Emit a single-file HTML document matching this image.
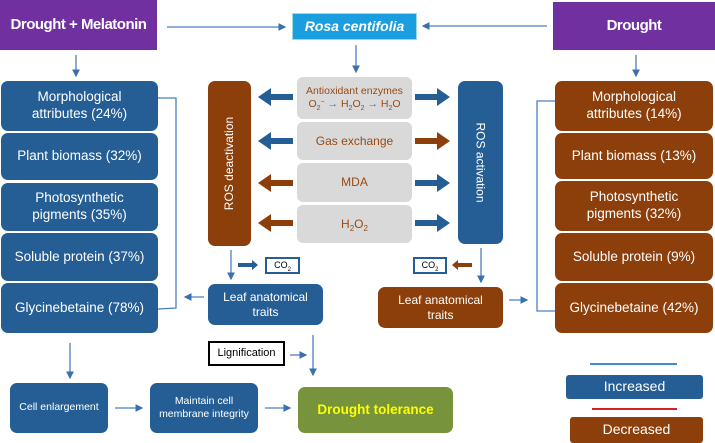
<!DOCTYPE html>
<html><head><meta charset="utf-8"><style>
body{margin:0;width:715px;height:443px;background:#fff;position:relative;overflow:hidden;font-family:"Liberation Sans",sans-serif}
.b{position:absolute;box-sizing:border-box;display:flex;align-items:center;justify-content:center;text-align:center;color:#fff;border-radius:7px;line-height:1.25}
.bl{background:#255e95}.br{background:#8c3f0a}
.g{background:#d9d9d9;color:#9a4a12;font-size:12px;border-radius:6px}
.p{background:#7030a0;font-weight:bold;font-size:15px;border-radius:0;letter-spacing:-0.5px}
.c{font-size:13.5px}
sub{vertical-align:-3px;line-height:0}
svg{position:absolute;left:0;top:0}
</style></head><body>
<div class="b p" style="left:0;top:0;width:157px;height:50px">Drought + Melatonin</div>
<div class="b p" style="left:553px;top:2px;width:162px;height:48px">Drought</div>
<div class="b" style="left:292px;top:13px;width:125px;height:27px;background:#1a9ee0;border-radius:0;font-style:italic;font-weight:bold;font-size:14px;border:1px solid #9dd">Rosa centifolia</div>

<div class="b bl c" style="left:1px;top:81px;width:157px;height:50px">Morphological<br>attributes (24%)</div>
<div class="b bl c" style="left:1px;top:133px;width:157px;height:47px">Plant biomass (32%)</div>
<div class="b bl c" style="left:1px;top:183px;width:157px;height:48px">Photosynthetic<br>pigments (35%)</div>
<div class="b bl c" style="left:1px;top:233px;width:157px;height:48px">Soluble protein (37%)</div>
<div class="b bl c" style="left:1px;top:283px;width:157px;height:50px">Glycinebetaine (78%)</div>

<div class="b br c" style="left:555px;top:81px;width:158px;height:50px">Morphological<br>attributes (14%)</div>
<div class="b br c" style="left:555px;top:133px;width:158px;height:46px">Plant biomass (13%)</div>
<div class="b br c" style="left:555px;top:181px;width:158px;height:50px">Photosynthetic<br>pigments (32%)</div>
<div class="b br c" style="left:555px;top:233px;width:158px;height:48px">Soluble protein (9%)</div>
<div class="b br c" style="left:555px;top:283px;width:158px;height:50px">Glycinebetaine (42%)</div>

<div class="b br" style="left:208px;top:81px;width:43px;height:165px"><div style="transform:rotate(-90deg);white-space:nowrap;font-size:12px">ROS deactivation</div></div>
<div class="b bl" style="left:458px;top:81px;width:45px;height:163px"><div style="transform:rotate(90deg);white-space:nowrap;font-size:12px">ROS activation</div></div>

<div class="b g" style="left:297px;top:77px;width:115px;height:42px;flex-direction:column;font-size:10.5px"><span>Antioxidant enzymes</span><span style="font-size:10.5px">O<sub style="font-size:7px">2</sub><sup style="font-size:7px;vertical-align:3px;line-height:0">−</sup> <span style="color:#3a7cc0">→</span> H<sub style="font-size:7px">2</sub>O<sub style="font-size:7px">2</sub> <span style="color:#3a7cc0">→</span> H<sub style="font-size:7px">2</sub>O</span></div>
<div class="b g" style="left:297px;top:122px;width:115px;height:38px">Gas exchange</div>
<div class="b g" style="left:297px;top:163px;width:115px;height:39px">MDA</div>
<div class="b g" style="left:297px;top:205px;width:115px;height:38px"><span>H<sub style="font-size:8px">2</sub>O<sub style="font-size:8px">2</sub></span></div>

<div class="b" style="left:265px;top:257px;width:35px;height:17px;border:2px solid #255e95;border-radius:0;color:#000;font-size:9px"><span>CO<sub style="font-size:6px">2</sub></span></div>
<div class="b" style="left:413px;top:257px;width:34px;height:17px;border:2px solid #255e95;border-radius:0;color:#000;font-size:9px"><span>CO<sub style="font-size:6px">2</sub></span></div>

<div class="b bl" style="left:208px;top:284px;width:115px;height:41px;font-size:12px">Leaf anatomical<br>traits</div>
<div class="b br" style="left:378px;top:287px;width:125px;height:41px;font-size:12px">Leaf anatomical<br>traits</div>
<div class="b" style="left:208px;top:341px;width:77px;height:25px;border:2px solid #000;border-radius:0;color:#000;font-size:11px">Lignification</div>

<div class="b bl" style="left:10px;top:383px;width:98px;height:50px;font-size:10.5px">Cell enlargement</div>
<div class="b bl" style="left:150px;top:383px;width:108px;height:50px;font-size:10.5px">Maintain cell<br>membrane integrity</div>
<div class="b" style="left:298px;top:387px;width:155px;height:46px;background:#77933c;color:#ffff00;font-weight:bold;font-size:13.5px">Drought tolerance</div>

<div class="b bl" style="left:566px;top:375px;width:137px;height:24px;border-radius:3px;font-size:14px">Increased</div>
<div class="b br" style="left:570px;top:417px;width:133px;height:26px;border-radius:3px;font-size:14px">Decreased</div>

<svg width="715" height="443">
<defs>
<marker id="a" markerWidth="6" markerHeight="6" refX="5" refY="3" orient="auto"><path d="M0,0L6,3L0,6z" fill="#3a70b0"/></marker>
</defs>
<g stroke="#4a7fbf" stroke-width="1.3" fill="none">
<line x1="167" y1="27" x2="285" y2="27" marker-end="url(#a)"/>
<line x1="547" y1="26" x2="423" y2="26" marker-end="url(#a)"/>
<line x1="76" y1="55" x2="76" y2="76" marker-end="url(#a)"/>
<line x1="356" y1="45" x2="356" y2="72" marker-end="url(#a)"/>
<line x1="636" y1="55" x2="636" y2="76" marker-end="url(#a)"/>
<polyline points="158,98 176,98 176,308 158,309"/>
<polyline points="555,101 537,101 537,311 555,311"/>
<line x1="204" y1="297" x2="185" y2="297" marker-end="url(#a)"/>
<line x1="509" y1="300" x2="527" y2="300" marker-end="url(#a)"/>
<line x1="231" y1="250" x2="231" y2="279" marker-end="url(#a)"/>
<line x1="481" y1="248" x2="481" y2="282" marker-end="url(#a)"/>
<line x1="313" y1="335" x2="313" y2="375" marker-end="url(#a)"/>
<line x1="290" y1="355" x2="306" y2="355" marker-end="url(#a)"/>
<line x1="70" y1="343" x2="70" y2="378" marker-end="url(#a)"/>
<line x1="115" y1="408" x2="142" y2="408" marker-end="url(#a)"/>
<line x1="265" y1="408" x2="290" y2="408" marker-end="url(#a)"/>
</g>
<line x1="590" y1="364" x2="677" y2="364" stroke="#3d8ecf" stroke-width="2"/>
<line x1="592" y1="409" x2="677" y2="409" stroke="#d0202a" stroke-width="2"/>
<g>
<path d="M293,94 h-22 v-6 l-13,9 l13,9 v-6 h22z" fill="#255e95"/>
<path d="M293,138 h-22 v-6 l-13,9 l13,9 v-6 h22z" fill="#255e95"/>
<path d="M293,180 h-22 v-6 l-13,9 l13,9 v-6 h22z" fill="#8c3f0a"/>
<path d="M293,220 h-22 v-6 l-13,9 l13,9 v-6 h22z" fill="#8c3f0a"/>
<path d="M415,94 h22 v-6 l13,9 l-13,9 v-6 h-22z" fill="#255e95"/>
<path d="M415,138 h22 v-6 l13,9 l-13,9 v-6 h-22z" fill="#8c3f0a"/>
<path d="M415,180 h22 v-6 l13,9 l-13,9 v-6 h-22z" fill="#255e95"/>
<path d="M415,220 h22 v-6 l13,9 l-13,9 v-6 h-22z" fill="#255e95"/>
<path d="M238,263 h14 v-3 l6,5 l-6,5 v-3 h-14z" fill="#255e95"/>
<path d="M472,263 h-14 v-3 l-6,5 l6,5 v-3 h14z" fill="#8c3f0a"/>
</g>
</svg>
</body></html>
